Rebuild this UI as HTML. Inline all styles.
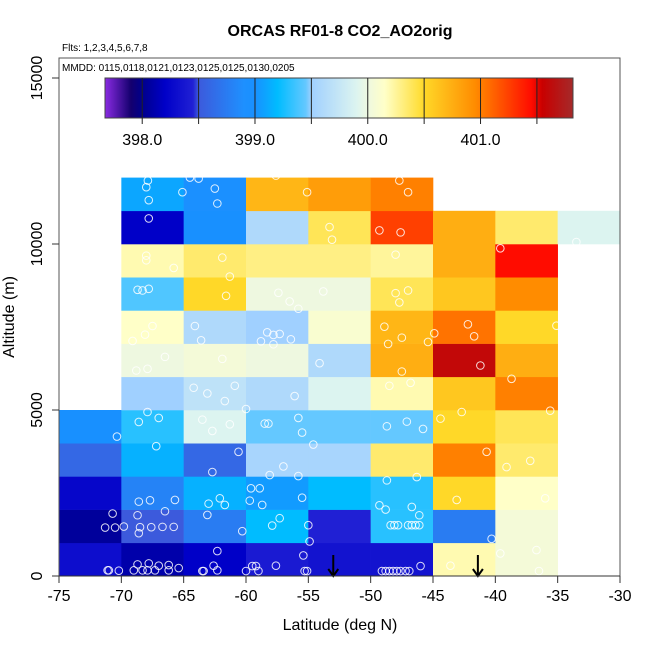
<!DOCTYPE html>
<html><head><meta charset="utf-8"><style>
body{margin:0;background:#fff}
svg text{font-family:"Liberation Sans",Arial,sans-serif}
</style></head><body>
<svg id="chart" width="650" height="650" viewBox="0 0 650 650" xmlns="http://www.w3.org/2000/svg">
<defs>
<linearGradient id="cbgrad" x1="0" x2="1" y1="0" y2="0"></linearGradient>
</defs>
<rect width="650" height="650" fill="#fff"/>
<g id="cells"></g>
<g id="pts"></g>
<g id="arrows"></g>
<rect x="59" y="58" width="561" height="518" fill="none" stroke="#555" stroke-width="1"/>
<text x="340" y="36" font-size="16" font-weight="bold" text-anchor="middle">ORCAS RF01-8 CO2_AO2orig</text>
<text x="62" y="51" font-size="10">Flts: 1,2,3,4,5,6,7,8</text>
<text x="62" y="71" font-size="10">MMDD: 0115,0118,0121,0123,0125,0125,0130,0205</text>
<g id="colorbar"></g>
<g id="axes"></g>
<text x="340" y="630" font-size="16" text-anchor="middle">Latitude (deg N)</text>
<text x="0" y="0" font-size="16" text-anchor="middle" transform="translate(14,317) rotate(-90)">Altitude (m)</text>
</svg>
<script>
// ---- data ----
const latBins = [-75,-70,-65,-60,-55,-50,-45,-40,-35];
const altBins = [0,1000,2000,3000,4000,5000,6000,7000,8000,9000,10000,11000];
// co2 values per altitude row (row 0 = 0-1000 m), per lat column; null = no data
const row0  = [398.3,398.1,398.2,398.4,398.35,398.35,400.2,400.05,null];
const row1  = [398.05,398.5,398.75,399.2,398.45,399.3,398.75,400.05,null];
const row2  = [398.25,398.8,399.15,399.05,399.2,399.3,400.5,400.15,null];
const row3  = [398.6,399.15,398.6,399.55,399.55,400.35,401.0,400.35,null];
const row4  = [399.0,399.3,399.9,399.45,399.45,399.45,400.5,400.4,null];
const row5  = [null,399.5,399.7,399.6,399.9,400.2,400.6,401.0,null];
const row6  = [null,400.0,400.05,400.0,399.6,400.75,401.6,400.75,null];
const row7  = [null,400.15,399.6,399.5,400.1,400.7,401.05,400.5,null];
const row8  = [null,399.4,400.5,400.0,400.0,400.4,400.6,400.95,null];
const row9  = [null,400.2,400.35,400.3,400.3,400.25,400.75,401.45,null];
const row10 = [null,398.2,399.0,399.6,400.4,401.25,400.75,400.35,399.9];
const row11 = [null,399.1,398.95,400.7,400.85,401.0,null,null,null];
const cbTicks = [398.0,399.0,400.0,401.0];
// sample points
const ptLat = [-67.87,-68.0,-67.8,-65.1,-64.5,-63.8,-62.5,-62.3,-57.6,-55.1,-47.7,-47.0,-67.8,-53.3,-53.1,-49.3,-47.6,-39.6,-33.5,-68.0,-68.0,-65.8,-61.9,-61.3,-48.0,-68.7,-68.3,-67.8,-61.6,-57.4,-56.5,-55.8,-53.8,-48.0,-47.0,-47.7,-67.5,-68.1,-69.1,-64.1,-63.6,-58.3,-57.8,-57.3,-58.8,-56.4,-57.8,-48.9,-47.5,-48.6,-44.9,-45.4,-42.2,-41.7,-35.1,-66.5,-67.9,-68.8,-61.9,-54.1,-47.5,-41.2,-38.7,-64.2,-63.1,-60.9,-61.7,-56.1,-60.0,-48.5,-46.8,-67.9,-68.6,-67.0,-70.35,-63.5,-62.7,-61.3,-58.5,-58.2,-55.8,-55.5,-54.6,-48.7,-47.1,-45.8,-44.4,-42.7,-35.6,-67.2,-60.6,-62.7,-57.0,-58.1,-55.8,-40.7,-39.1,-37.2,-48.7,-46.3,-68.6,-67.7,-65.7,-63.0,-62.1,-61.7,-59.6,-58.9,-59.7,-58.7,-55.5,-49.3,-48.8,-46.7,-46.1,-43.1,-36.0,-70.7,-71.3,-70.5,-69.8,-68.7,-68.5,-68.6,-67.6,-66.7,-65.8,-66.5,-63.1,-60.3,-57.9,-57.3,-55.0,-54.9,-48.4,-48.1,-47.8,-47.0,-46.7,-46.4,-46.1,-40.3,-71.1,-71.0,-70.2,-69.0,-68.7,-68.3,-67.9,-67.8,-67.0,-67.3,-66.2,-66.2,-65.4,-62.3,-62.6,-63.5,-63.4,-62.3,-60.0,-59.5,-59.2,-59.0,-57.6,-55.4,-55.3,-55.1,-49.1,-48.8,-48.5,-48.2,-47.9,-47.6,-47.2,-46.9,-46.0,-43.6,-39.6,-36.7,-36.5];
const ptAlt = [11910,11710,11320,11560,12000,11970,11670,11220,12060,11560,11910,11560,10770,10510,10130,10410,10350,9870,10060,9650,9510,9280,9590,9020,9680,8620,8600,8650,8440,8530,8270,8050,8570,8520,8600,8240,7530,7270,7080,7530,7100,7340,7260,7290,7070,7130,6980,7510,7180,6990,7310,7050,7580,7220,7540,6600,6240,6190,6540,6410,6160,6340,5940,5670,5500,5730,5270,5420,5030,5730,5820,4940,4640,4760,4200,4710,4370,4570,4590,4590,4760,4320,3960,4510,4650,4430,4740,4940,4980,3910,3740,3130,3300,3040,3010,3740,3280,3470,2880,2980,2240,2280,2290,2180,2340,2140,2640,2640,2270,2140,2360,2130,2000,2080,1830,2290,2340,1880,1460,1460,1490,1830,1470,1290,1470,1480,1480,1950,1840,1350,1520,1740,1530,1040,1530,1530,1530,1530,1530,1530,1530,1120,170,170,160,170,350,170,170,380,310,170,330,170,240,750,310,150,150,170,150,300,300,150,310,620,150,150,150,150,150,150,150,150,150,150,300,310,680,780,150];
const arrowLat = [-53.0,-41.4];

// ---- scales ----
const X = lat => 59 + (lat + 75) * (561/45);
const Y = alt => 576 - alt * 0.0332;
const cbX = v => 105 + (v - 397.67) * (468/(401.82-397.67));
const cmap = [[397.67,[138,43,226]],[397.9,[20,0,110]],[398.0,[0,0,140]],[398.2,[0,0,200]],[398.45,[32,32,212]],[398.5,[60,90,220]],[398.9,[30,144,255]],[399.0,[24,144,255]],[399.2,[0,188,255]],[399.45,[100,200,255]],[399.5,[160,208,255]],[399.9,[220,244,240]],[400.0,[238,248,224]],[400.15,[255,255,200]],[400.45,[255,224,64]],[400.5,[255,216,40]],[400.95,[255,140,0]],[401.0,[255,128,0]],[401.45,[255,12,0]],[401.55,[200,0,0]],[401.82,[165,42,42]]];
function color(v){
  if(v<=cmap[0][0]) return 'rgb('+cmap[0][1]+')';
  for(let i=1;i<cmap.length;i++){
    if(v<=cmap[i][0]){const a=cmap[i-1],b=cmap[i],t=(v-a[0])/(b[0]-a[0]);
      return 'rgb('+a[1].map((c,k)=>Math.round(c+(b[1][k]-c)*t)).join(',')+')';}
  }
  return 'rgb('+cmap[cmap.length-1][1]+')';
}
const NS='http://www.w3.org/2000/svg';
function mk(tag,attrs,parent){const e=document.createElementNS(NS,tag);for(const k in attrs)e.setAttribute(k,attrs[k]);parent.appendChild(e);return e;}

// cells
const rows=[row0,row1,row2,row3,row4,row5,row6,row7,row8,row9,row10,row11];
const cg=document.getElementById('cells');
rows.forEach((r,ri)=>r.forEach((v,ci)=>{
  if(v===null)return;
  const x0=X(latBins[ci]),x1=X(latBins[ci]+5),y0=Y(altBins[ri]+1000),y1=Y(altBins[ri]);
  const el=mk('rect',{x:x0,y:y0,width:x1-x0+0.3,height:y1-y0+0.3,fill:color(v)},cg);
  
  
}));
// points
const pg=document.getElementById('pts');
ptLat.forEach((la,i)=>{
  const el=mk('circle',{cx:X(la),cy:Y(ptAlt[i]),r:3.8,fill:'none',stroke:'#fff','stroke-opacity':0.85,'stroke-width':1},pg);
  
  
});
// arrows
const ag=document.getElementById('arrows');
arrowLat.forEach(la=>{
  const g=mk('g',{},ag);
  
  
  const x=X(la);
  mk('line',{x1:x,y1:555,x2:x,y2:576,stroke:'#000','stroke-width':2},g);
  mk('path',{d:`M${x-5},${569} L${x},${576} L${x+5},${569}`,fill:'none',stroke:'#000','stroke-width':2},g);
});
// colorbar
const grad=document.getElementById('cbgrad');
cmap.forEach(s=>{mk('stop',{offset:((s[0]-397.67)/(401.82-397.67)).toFixed(4),'stop-color':'rgb('+s[1]+')'},grad);});
const cb=document.getElementById('colorbar');
const cbr=mk('rect',{x:105,y:78,width:468,height:40,fill:'url(#cbgrad)',stroke:'#444','stroke-width':1},cb);


for(let v=398.0;v<=401.51;v+=0.5){mk('line',{x1:cbX(v),y1:78,x2:cbX(v),y2:124,stroke:'#222','stroke-width':1},cb);}
cbTicks.forEach(v=>{
  const t=mk('text',{x:cbX(v),y:145,'font-size':16,'text-anchor':'middle'},cb);
  t.textContent=v.toFixed(1);
  
  
});
// axes
const ax=document.getElementById('axes');
const xTicks=[-75,-70,-65,-60,-55,-50,-45,-40,-35,-30];
const yTicks=[0,5000,10000,15000];
mk('line',{x1:59,y1:576,x2:620,y2:576,stroke:'#333','stroke-width':1},ax);
xTicks.forEach(v=>{
  mk('line',{x1:X(v),y1:576,x2:X(v),y2:583,stroke:'#333','stroke-width':1},ax);
  const t=mk('text',{x:X(v),y:601,'font-size':16,'text-anchor':'middle'},ax);
  t.textContent=v;
  
  
});
yTicks.forEach(v=>{
  mk('line',{x1:52,y1:Y(v),x2:59,y2:Y(v),stroke:'#333','stroke-width':1},ax);
  const t=mk('text',{x:0,y:0,'font-size':16,'text-anchor':'middle',transform:`translate(42,${Y(v)}) rotate(-90)`},ax);
  t.textContent=v;
  
  
});
</script>
</body></html>
